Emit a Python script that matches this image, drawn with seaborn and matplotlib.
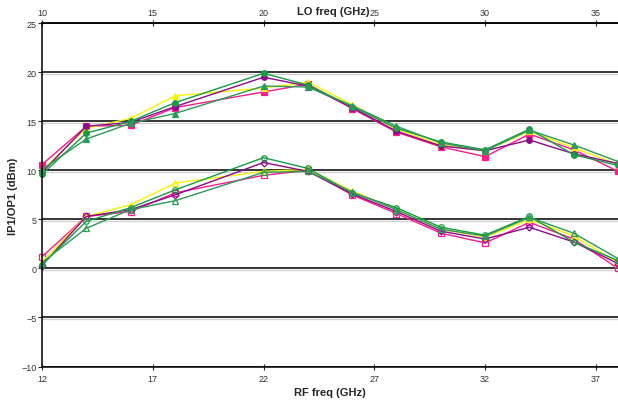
import matplotlib
matplotlib.use("Agg")
import matplotlib.pyplot as plt
import seaborn as sns
import pandas as pd

# RF frequency points (GHz); LO = RF - 2
rf_freq = [12, 14, 16, 18, 22, 24, 26, 28, 30, 32, 34, 36, 38]

# IP1 (filled markers, upper group)
ip1_pink = [10.6, 14.5, 14.6, 16.4, 18.0, 18.8, 16.3, 13.9, 12.4, 11.4, 13.7, 12.1, 9.9]
ip1_yellow = [10.0, 14.3, 15.3, 17.6, 18.4, 19.0, 16.7, 14.2, 12.6, 12.0, 14.0, 12.3, 10.6]
ip1_purple = [9.8, 14.5, 14.9, 16.5, 19.5, 18.6, 16.4, 14.0, 12.5, 12.0, 13.1, 11.7, 10.7]
ip1_green = [9.6, 13.8, 15.0, 16.9, 19.9, 18.7, 16.5, 14.3, 12.9, 12.1, 14.2, 11.6, 10.5]
ip1_green_tri = [10.1, 13.2, 14.8, 15.8, 18.6, 18.5, 16.6, 14.5, 12.8, 12.0, 14.1, 12.6, 10.9]

# OP1 (open markers, lower group)
op1_pink = [1.2, 5.3, 5.8, 7.7, 9.5, 10.0, 7.5, 5.6, 3.6, 2.6, 4.7, 3.0, 0.0]
op1_yellow = [0.7, 5.3, 6.5, 8.7, 9.9, 10.1, 7.9, 6.0, 4.0, 3.2, 5.0, 3.3, 0.6]
op1_purple = [0.3, 5.3, 6.0, 7.5, 10.8, 9.9, 7.6, 5.8, 3.8, 3.0, 4.2, 2.7, 0.5]
op1_green = [0.4, 4.8, 6.2, 8.0, 11.3, 10.2, 7.7, 6.2, 4.2, 3.4, 5.3, 2.7, 0.8]
op1_green_tri = [0.6, 4.1, 6.0, 6.9, 9.8, 9.9, 7.8, 6.0, 4.0, 3.3, 5.2, 3.6, 1.0]

pink = "#FF1A8C"
yellow = "#F5F500"
purple = "#8B0A8B"
green = "#189A45"
green2 = "#2C9A58"

series = [
    (ip1_pink, pink, "s", True),
    (ip1_yellow, yellow, "^", True),
    (ip1_purple, purple, "o", True),
    (ip1_green, green, "o", True),
    (ip1_green_tri, green2, "^", True),
    (op1_pink, pink, "s", False),
    (op1_yellow, yellow, "^", False),
    (op1_purple, purple, "D", False),
    (op1_green, green, "o", False),
    (op1_green_tri, green2, "^", False),
]

sns.set_style("white")
plt.rcParams['font.family'] = ['Liberation Sans', 'DejaVu Sans']

fig = plt.figure(figsize=(6.18, 4.02), dpi=100)
ax = fig.add_axes([42 / 618, 1 - 367.5 / 402, 576 / 618, (367.5 - 24.3) / 402])

for vals, col, mk, filled in series:
    df = pd.DataFrame({"rf": rf_freq, "val": vals})
    ms = 4 if mk != "D" else 3.5
    sns.lineplot(data=df, x="rf", y="val", ax=ax, color=col, marker=mk,
                 markersize=ms, linewidth=1.0, markeredgecolor=col,
                 markerfacecolor=col if filled else "none",
                 markeredgewidth=0.9, clip_on=False)

ax.set_xlim(12, 38)
ax.set_ylim(-10, 25)
ax.set_yticks(range(-10, 26, 5))
ax.set_xticks(range(12, 38, 5))
ax.yaxis.grid(True, color="black", linewidth=1.1)
ax.set_axisbelow(True)
for y in range(-5, 25, 5):
    ax.axhline(y - 0.12, color="#cfcfcf", linewidth=0.9, zorder=0)

for s in ["left", "bottom", "top"]:
    ax.spines[s].set_color("black")
    ax.spines[s].set_linewidth(1.1)
ax.spines["right"].set_visible(False)

ax.tick_params(axis="y", direction="out", length=3, labelsize=6.5,
               labelcolor="#333333", left=True, pad=1)
ax.tick_params(axis="x", direction="inout", length=5, labelsize=6.5,
               labelcolor="#333333", bottom=True, pad=3)

sec = ax.secondary_xaxis("top", functions=(lambda x: x - 2, lambda x: x + 2))
sec.set_xticks(range(10, 37, 5))
sec.tick_params(direction="inout", length=5, labelsize=6.5, labelcolor="#333333", pad=2)
sec.spines["top"].set_linewidth(1.1)

ax.set_xlabel("RF freq (GHz)", fontsize=8, fontweight="bold", labelpad=3)
ax.set_ylabel("IP1/OP1 (dBm)", fontsize=8, fontweight="bold", labelpad=2)
fig.text(333 / 618, 1 - 12 / 402, "LO freq (GHz)", fontsize=8, fontweight="bold",
         ha="center", va="center")

fig.savefig("out.png", dpi=100)
